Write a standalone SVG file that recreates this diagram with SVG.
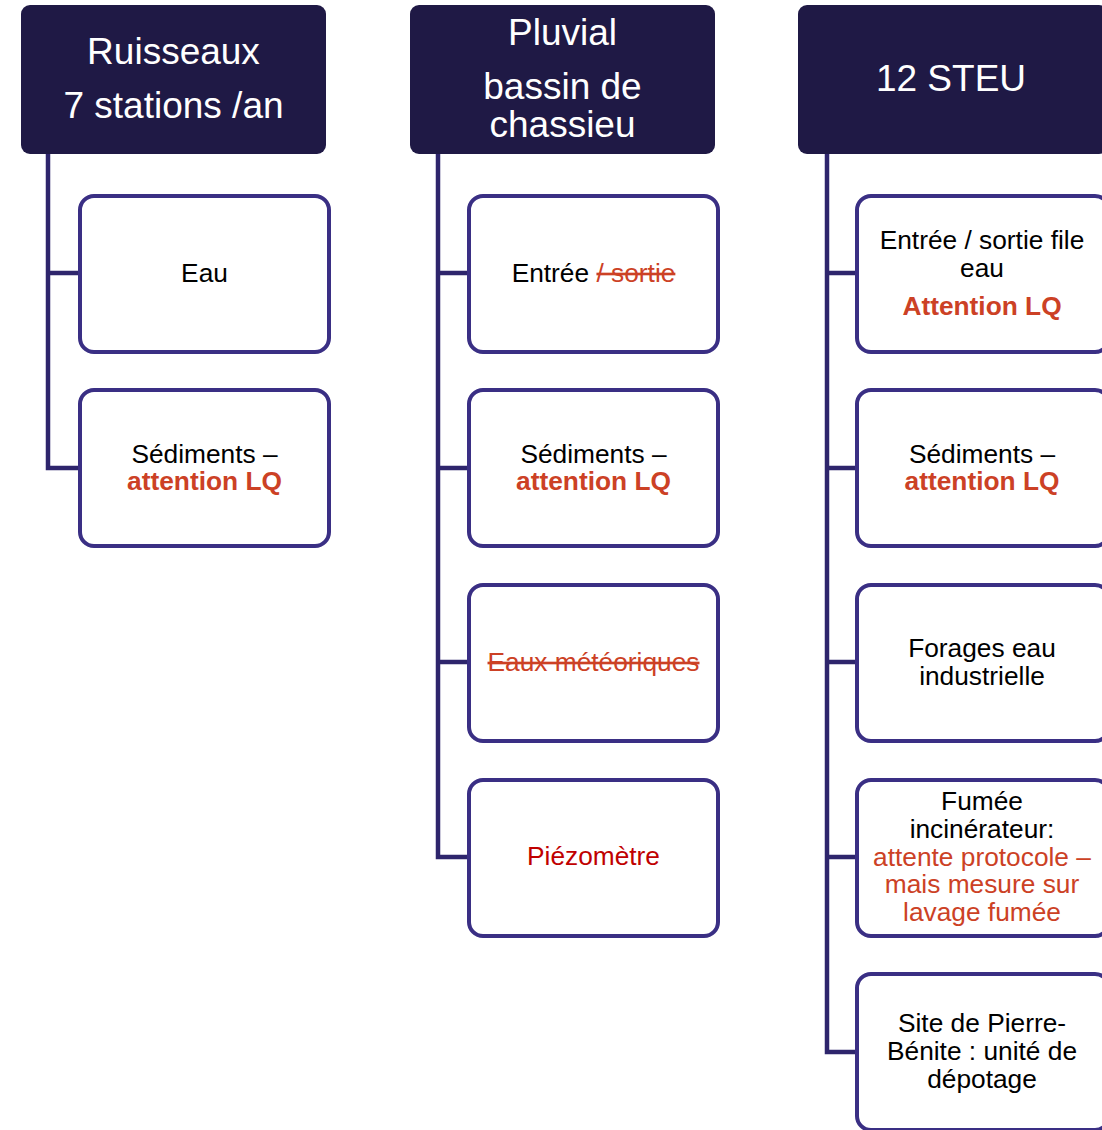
<svg xmlns="http://www.w3.org/2000/svg" width="1102" height="1130" viewBox="0 0 1102 1130">
<style>
.hdr{fill:#1f1945;}
.box{fill:#ffffff;stroke:#3a2f84;stroke-width:4;}
.con{fill:none;stroke:#2e256c;stroke-width:4.5;}
.ht{font-family:"Liberation Sans",Arial,sans-serif;font-size:37px;fill:#ffffff;text-anchor:middle;}
.t{font-family:"Liberation Sans",Arial,sans-serif;font-size:26.3px;fill:#000000;text-anchor:middle;}
.o{fill:#cc4125;}
.b{font-weight:bold;}
.r{fill:#c00000;}
.s{text-decoration:line-through;}
</style>
<rect width="1102" height="1130" fill="#ffffff"/>
<g id="connectors">
<path class="con" d="M48,154 V468 H80 M48,273 H80"/>
<path class="con" d="M438,154 V857 H469 M438,273 H469 M438,468 H469 M438,662 H469"/>
<path class="con" d="M827,154 V1052 H857 M827,273 H857 M827,468 H857 M827,662 H857 M827,857 H857"/>
</g>
<g id="h1"><rect class="hdr" x="21" y="5" width="305" height="149" rx="9"/>
<text class="ht" x="173.500" y="64">Ruisseaux</text><text class="ht" x="173.500" y="118">7 stations /an</text></g>
<g id="h2"><rect class="hdr" x="410" y="5" width="305" height="149" rx="9"/>
<text class="ht" x="562.500" y="45">Pluvial</text><text class="ht" x="562.500" y="99">bassin de</text><text class="ht" x="562.500" y="137">chassieu</text></g>
<g id="h3"><rect class="hdr" x="798" y="5" width="310" height="149" rx="9"/>
<text class="ht" x="951" y="91">12 STEU</text></g>

<g id="c1a"><rect class="box" x="80" y="196" width="249" height="156" rx="14"/>
<text class="t" x="204.500" y="282">Eau</text></g>
<g id="c1b"><rect class="box" x="80" y="390" width="249" height="156" rx="14"/>
<text class="t" x="204.500" y="463">Sédiments –</text><text class="t o b" x="204.500" y="490">attention LQ</text></g>

<g id="c2a"><rect class="box" x="469" y="196" width="249" height="156" rx="14"/>
<text class="t" x="593.500" y="282">Entrée <tspan class="o s">/ sortie</tspan></text></g>
<g id="c2b"><rect class="box" x="469" y="390" width="249" height="156" rx="14"/>
<text class="t" x="593.500" y="463">Sédiments –</text><text class="t o b" x="593.500" y="490">attention LQ</text></g>
<g id="c2c"><rect class="box" x="469" y="585" width="249" height="156" rx="14"/>
<text class="t o s" x="593.500" y="671">Eaux météoriques</text></g>
<g id="c2d"><rect class="box" x="469" y="780" width="249" height="156" rx="14"/>
<text class="t r" x="593.500" y="865">Piézomètre</text></g>

<g id="c3a"><rect class="box" x="857" y="196" width="252" height="156" rx="14"/>
<text class="t" x="982" y="249">Entrée / sortie file</text><text class="t" x="982" y="277">eau</text><text class="t o b" x="982" y="315">Attention LQ</text></g>
<g id="c3b"><rect class="box" x="857" y="390" width="252" height="156" rx="14"/>
<text class="t" x="982" y="463">Sédiments –</text><text class="t o b" x="982" y="490">attention LQ</text></g>
<g id="c3c"><rect class="box" x="857" y="585" width="252" height="156" rx="14"/>
<text class="t" x="982" y="657">Forages eau</text><text class="t" x="982" y="685">industrielle</text></g>
<g id="c3d"><rect class="box" x="857" y="780" width="252" height="156" rx="14"/>
<text class="t" x="982" y="810">Fumée</text><text class="t" x="982" y="838">incinérateur:</text><text class="t o" x="982" y="866">attente protocole –</text><text class="t o" x="982" y="893">mais mesure sur</text><text class="t o" x="982" y="921">lavage fumée</text></g>
<g id="c3e"><rect class="box" x="857" y="974" width="252" height="156" rx="14"/>
<text class="t" x="982" y="1032">Site de Pierre-</text><text class="t" x="982" y="1060">Bénite : unité de</text><text class="t" x="982" y="1088">dépotage</text></g>
</svg>
